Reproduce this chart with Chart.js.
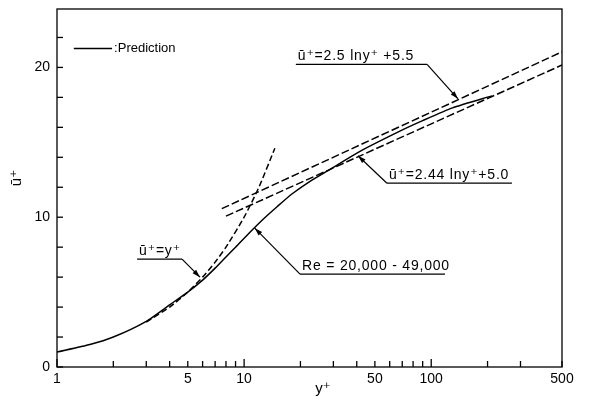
<!DOCTYPE html>
<html>
<head>
<meta charset="utf-8">
<script src="https://cdn.jsdelivr.net/npm/chart.js@4"></script>
<style>
  html, body { margin: 0; padding: 0; background: #fff; }
  #wrap { width: 590px; height: 402px; }
</style>
</head>
<body>
<div id="wrap"><canvas id="chart"></canvas></div>
<script>
// ── DATA ────────────────────────────────────────────────────
const yTicks  = [1, 2, 3, 4, 5, 6, 7, 8, 9, 10, 20, 30, 40, 50, 60, 70, 80, 90, 100, 200, 300, 500];
const yLabels = [1, 5, 10, 50, 100, 500];
const uTicks  = [0, 2, 4, 6, 8, 10, 12, 14, 16, 18, 20, 22];
const uLabels = [0, 10, 20];

// prediction, Re = 20,000 - 49,000 (solid)
const predY = [1, 1.5, 2, 3, 4, 5, 6, 7, 8, 9, 10.75, 12.6, 15, 18, 22.5, 28.8, 41.6, 68, 90, 130, 211];
const predU = [1.0, 1.5, 2.0, 3.05, 4.15, 5.0, 5.8, 6.6, 7.35, 8.0, 9.0, 9.85, 10.7, 11.55, 12.4, 13.2, 14.4, 15.75, 16.45, 17.3, 18.1];

// u+ = y+ (dashed)
const viscY = [3, 4, 5, 6, 7, 8, 10, 12, 14.6];
const viscU = [3, 4, 5, 6, 7, 8, 10, 12, 14.6];

// u+ = 2.5 ln y+ + 5.5 (dashed)
const log1Y = [7.6, 500];
const log1U = [10.57, 21.04];

// u+ = 2.44 ln y+ + 5.0 (dashed)
const log2Y = [8, 500];
const log2U = [10.07, 20.16];

const FONT = "'Liberation Sans', 'DejaVu Sans', sans-serif";
const toPts = (xs, ys) => xs.map((x, i) => ({ x, y: ys[i] }));

// annotations in data units: underline [x0, x1] at y, leader from underline end to arrow tip
const notes = [
  { text: 'ū⁺=2.5 lny⁺ +5.5',     ux: [18.9, 95],    uy: 20.2,  from: 'right', tip: [139, 17.9] },
  { text: 'ū⁺=2.44 lny⁺+5.0',     ux: [58, 270],     uy: 12.27, from: 'left',  tip: [40.6, 14.1] },
  { text: 'ū⁺=y⁺',                ux: [2.68, 4.66],  uy: 7.2,   from: 'right', tip: [5.81, 6.0] },
  { text: 'Re = 20,000 - 49,000', ux: [19.9, 118.5], uy: 6.2,   from: 'left',  tip: [11.4, 9.27] }
];
const legendPos = { x0: 1.23, x1: 1.97, y: 21.27 };

// ── DRAWING HELPERS ─────────────────────────────────────────
function arrow(ctx, x0, y0, x1, y1) {
  ctx.beginPath();
  ctx.moveTo(x0, y0);
  ctx.lineTo(x1, y1);
  ctx.stroke();
  const a = Math.atan2(y1 - y0, x1 - x0);
  const L = 8, W = 2.5;
  ctx.beginPath();
  ctx.moveTo(x1, y1);
  ctx.lineTo(x1 - L * Math.cos(a) + W * Math.sin(a), y1 - L * Math.sin(a) - W * Math.cos(a));
  ctx.lineTo(x1 - L * Math.cos(a) - W * Math.sin(a), y1 - L * Math.sin(a) + W * Math.cos(a));
  ctx.closePath();
  ctx.fill();
}

const decor = {
  id: 'decor',
  afterDraw(chart) {
    const { ctx, chartArea: ca, scales: { x, y } } = chart;
    ctx.save();
    ctx.strokeStyle = '#000';
    ctx.fillStyle = '#000';
    ctx.lineWidth = 1.3;
    ctx.setLineDash([]);

    // frame
    ctx.strokeRect(ca.left, ca.top, ca.right - ca.left, ca.bottom - ca.top);

    // inward ticks
    yTicks.forEach(v => {
      const px = x.getPixelForValue(v);
      const len = [1, 10, 100].includes(v) ? 8 : 6;
      ctx.beginPath();
      ctx.moveTo(px, ca.bottom);
      ctx.lineTo(px, ca.bottom - len);
      ctx.stroke();
    });
    uTicks.forEach(v => {
      const py = y.getPixelForValue(v);
      ctx.beginPath();
      ctx.moveTo(ca.left, py);
      ctx.lineTo(ca.left + 6, py);
      ctx.stroke();
    });

    // axis titles
    ctx.font = '15px ' + FONT;
    ctx.textAlign = 'center';
    ctx.textBaseline = 'middle';
    ctx.fillText('y⁺', 323, 389);
    ctx.save();
    ctx.translate(17, 178);
    ctx.rotate(-Math.PI / 2);
    ctx.fillText('ū⁺', 0, 0);
    ctx.restore();

    // legend
    const ly = y.getPixelForValue(legendPos.y);
    ctx.lineWidth = 1.5;
    ctx.beginPath();
    ctx.moveTo(x.getPixelForValue(legendPos.x0), ly);
    ctx.lineTo(x.getPixelForValue(legendPos.x1), ly);
    ctx.stroke();
    ctx.font = '13px ' + FONT;
    ctx.textAlign = 'left';
    ctx.fillText(':Prediction', x.getPixelForValue(legendPos.x1) + 2, ly);

    // annotations
    ctx.lineWidth = 1.2;
    ctx.font = '14px ' + FONT;
    ctx.letterSpacing = '0.8px';
    notes.forEach(n => {
      const ux0 = x.getPixelForValue(n.ux[0]);
      const ux1 = x.getPixelForValue(n.ux[1]);
      const uy = y.getPixelForValue(n.uy);
      ctx.beginPath();
      ctx.moveTo(ux0, uy);
      ctx.lineTo(ux1, uy);
      ctx.stroke();
      ctx.textAlign = 'left';
      ctx.textBaseline = 'alphabetic';
      ctx.fillText(n.text, ux0 + 2, uy - 4);
      const sx = n.from === 'left' ? ux0 : ux1;
      arrow(ctx, sx, uy, x.getPixelForValue(n.tip[0]), y.getPixelForValue(n.tip[1]));
    });
    ctx.restore();
  }
};

// ── CHART ───────────────────────────────────────────────────
const lineSet = (data, dash) => ({
  data,
  showLine: true,
  borderColor: '#000',
  borderWidth: 1.5,
  borderDash: dash,
  pointRadius: 0,
  fill: false,
  tension: 0.2
});

new Chart(document.getElementById('chart'), {
  type: 'scatter',
  data: {
    datasets: [
      lineSet(toPts(predY, predU), []),
      lineSet(toPts(viscY, viscU), [6, 3]),
      lineSet(toPts(log1Y, log1U), [8, 3]),
      lineSet(toPts(log2Y, log2U), [8, 3])
    ]
  },
  options: {
    responsive: true,
    maintainAspectRatio: false,
    animation: false,
    events: [],
    layout: { padding: { left: 0, right: 28, top: 9, bottom: 0 } },
    plugins: { legend: { display: false }, tooltip: { enabled: false } },
    scales: {
      x: {
        type: 'logarithmic',
        min: 1,
        max: 500,
        afterBuildTicks: s => { s.ticks = yTicks.map(v => ({ value: v })); },
        afterFit: s => { s.height = 35; s.paddingLeft = 0; s.paddingRight = 0; },
        grid: { display: false, drawTicks: false },
        border: { display: false },
        ticks: {
          autoSkip: false,
          maxRotation: 0,
          padding: 4,
          color: '#000',
          font: { family: FONT, size: 14 },
          callback: v => yLabels.includes(v) ? String(v) : ''
        }
      },
      y: {
        min: 0,
        max: 23.9,
        afterBuildTicks: s => { s.ticks = uTicks.map(v => ({ value: v })); },
        afterFit: s => { s.width = 57; s.paddingTop = 0; s.paddingBottom = 0; },
        grid: { display: false, drawTicks: false },
        border: { display: false },
        ticks: {
          autoSkip: false,
          padding: 7,
          color: '#000',
          font: { family: FONT, size: 14 },
          callback: v => uLabels.includes(v) ? String(v) : ''
        }
      }
    }
  },
  plugins: [decor]
});
</script>
</body>
</html>
